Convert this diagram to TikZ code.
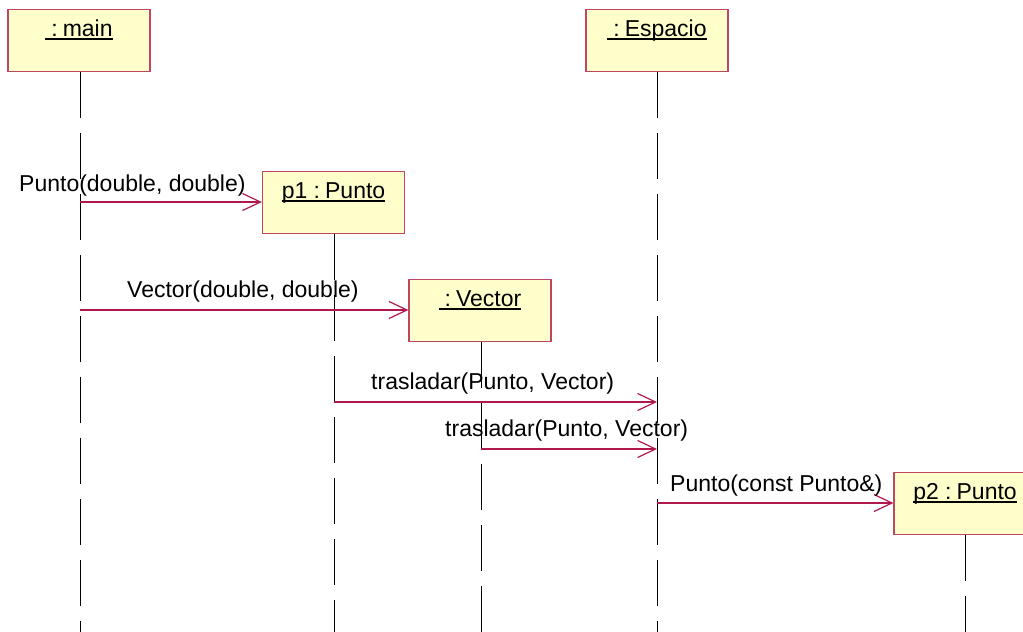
\documentclass[tikz,border=0pt]{standalone}
\usepackage{fontspec}
\setmainfont{Liberation Sans}
\usetikzlibrary{arrows.meta}
\definecolor{boxfill}{HTML}{FFFFCC}
\definecolor{boxline}{RGB}{190,70,100}
\definecolor{msgline}{RGB}{175,25,75}
\newcommand{\ulx}[1]{\setbox0\hbox{#1}\rlap{\rule[-4pt]{\wd0}{1.6pt}}\box0}
\tikzset{
  objbox/.style={draw=boxline, line width=1.2pt, fill=boxfill, minimum width=142pt, minimum height=62pt, inner sep=0pt, anchor=north},
  objlbl/.style={anchor=base, inner sep=0pt, font=\fontsize{23}{27}\selectfont},
  lifeline/.style={draw=black, line width=1pt, dash pattern=on 46pt off 15pt},
  msg/.style={draw=msgline, line width=1.2pt, -{Straight Barb[length=18pt, width=17pt, line width=1.2pt]}},
  msglbl/.style={anchor=base west, inner sep=0pt, font=\fontsize{23}{27}\selectfont}
}
\begin{document}
\begin{tikzpicture}[x=1pt, y=-1pt]
\clip (0,0) rectangle (1023,632);
\fill[white] (0,0) rectangle (1023,632);
% object boxes
\node[objbox] (main) at (79,9) {};
\node[objbox] (esp) at (657,9) {};
\node[objbox] (p1) at (333.5,171) {};
\node[objbox] (vec) at (480,279) {};
\node[objbox] (p2) at (965,472) {};
% box labels
\node[objlbl] (mainl) at (79,36) {\ulx{\hspace{6pt}:\hspace{5pt}main}};
\node[objlbl] (espl) at (657,36) {\ulx{\hspace{6pt}:\hspace{5pt}Espacio}};
\node[objlbl] (p1l) at (333.5,198) {\ulx{p1 :\hspace{5pt}Punto}};
\node[objlbl] (vecl) at (480,306) {\ulx{\hspace{6pt}:\hspace{5pt}Vector}};
\node[objlbl] (p2l) at (965,499) {\ulx{p2 :\hspace{5pt}Punto}};
% lifeline ends
\coordinate (mainE) at (80,632);
\coordinate (espE) at (657,632);
\coordinate (p1E) at (334,632);
\coordinate (vecE) at (481,632);
\coordinate (p2E) at (965,632);
\draw[lifeline] (main.south) ++(1,0) -- (mainE);
\draw[lifeline] (esp.south) -- (espE);
\draw[lifeline] (p1.south) ++(0.5,0) -- (p1E);
\draw[lifeline] (vec.south) ++(1,0) -- (vecE);
\draw[lifeline] (p2.south) -- (p2E);
% message anchor points
\coordinate (m1s) at (80,202);
\coordinate (m2s) at (80,310);
\coordinate (m3s) at (334,402);
\coordinate (m3e) at (657,402);
\coordinate (m4s) at (481,449);
\coordinate (m4e) at (657,449);
\coordinate (m5s) at (657,503);
% messages
\draw[msg] (m1s) -- (m1s -| p1.west);
\draw[msg] (m2s) -- (m2s -| vec.west);
\draw[msg] (m3s) -- (m3e);
\draw[msg] (m4s) -- (m4e);
\draw[msg] (m5s) -- (m5s -| p2.west);
% message labels
\node[msglbl] (l1) at (19,191) {Punto(double, double)};
\node[msglbl] (l2) at (127,297) {Vector(double, double)};
\node[msglbl] (l3) at (371,389) {trasladar(Punto, Vector)};
\node[msglbl] (l4) at (445,436) {trasladar(Punto, Vector)};
\node[msglbl] (l5) at (670,491) {Punto(const Punto\&)};
\end{tikzpicture}
\end{document}
